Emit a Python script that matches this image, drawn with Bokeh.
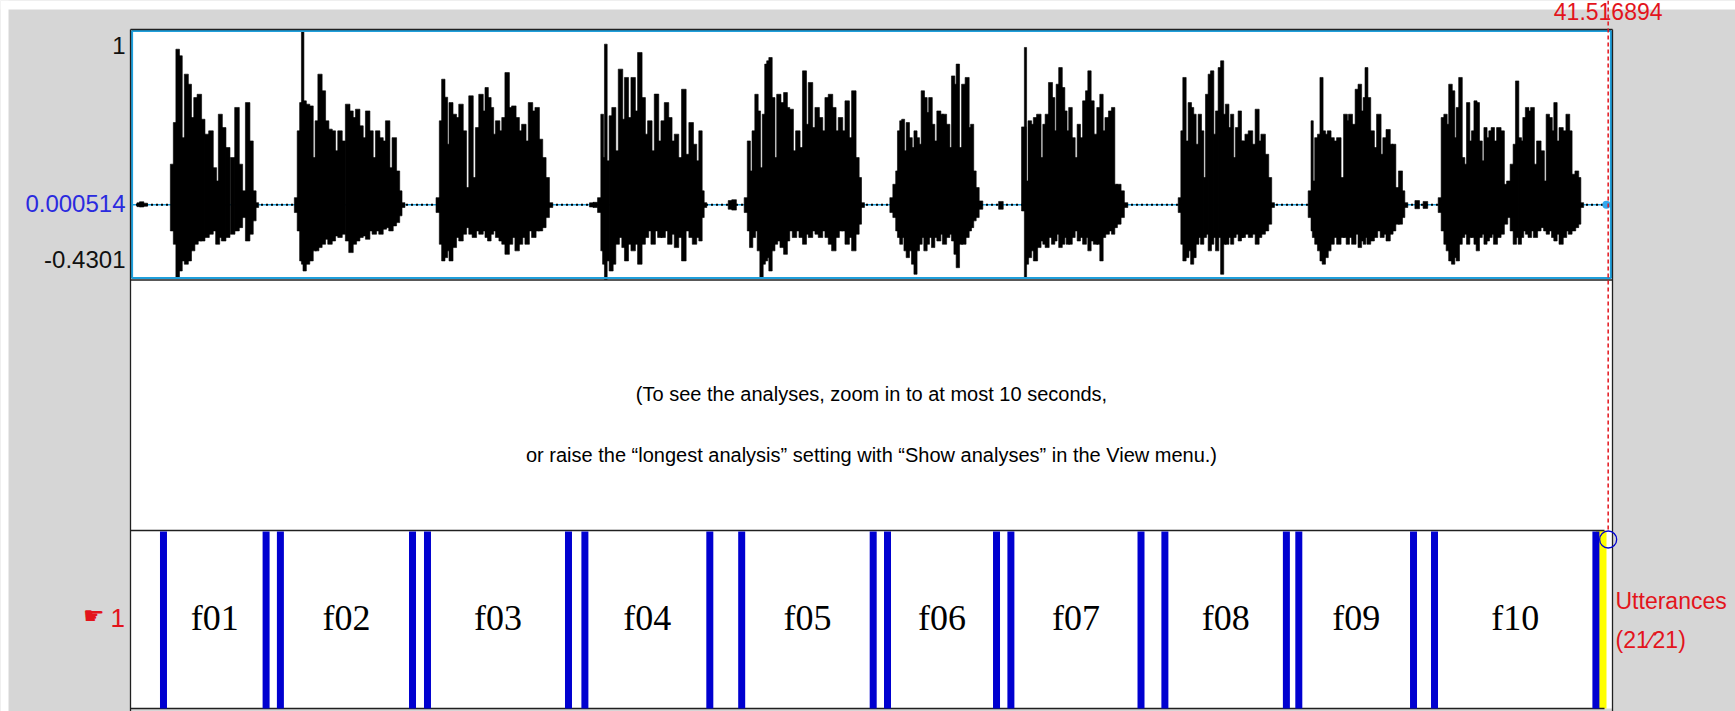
import numpy as np
from bokeh.plotting import figure
from bokeh.models import Range1d, ColumnDataSource
from bokeh.core.properties import value
from bokeh.embed import file_html
from bokeh.resources import INLINE

# ---------------- data ----------------
total_duration = 41.516894
cursor_label = "41.516894"
amp_max = 1.0
amp_mid = 0.000514
amp_min = -0.4301
y_tick_labels = ["1", "0.000514", "-0.4301"]

boundaries = [0.913, 3.797, 4.199, 7.912, 8.333, 12.296, 12.757, 16.268, 17.164, 20.860,
              21.262, 24.326, 24.730, 28.387, 29.058, 32.473, 32.822, 36.046, 36.636, 41.172]
tier_end = 41.47
interval_labels = ["", "f01", "", "f02", "", "f03", "", "f04", "", "f05", "",
                   "f06", "", "f07", "", "f08", "", "f09", "", "f10", ""]
selected_interval = 21
tier_name = "Utterances"
tier_number = "1"
message_lines = ["(To see the analyses, zoom in to at most 10 seconds,",
                 "or raise the \u201clongest analysis\u201d setting with \u201cShow analyses\u201d in the View menu.)"]

# waveform envelope (time s, upper amplitude, lower amplitude)
wave_t = [
    0.22, 0.30, 0.40,
    1.171, 1.237, 1.312, 1.387, 1.471, 1.555, 1.640, 1.733, 1.827, 1.921, 2.014, 2.136, 2.248, 2.342, 2.436, 2.511, 2.604, 2.717, 2.857, 2.979, 3.073, 3.185, 3.279, 3.373, 3.466, 3.523,
    4.656, 4.712, 4.778, 4.825, 4.881, 4.965, 5.059, 5.153, 5.228, 5.312, 5.406, 5.499, 5.593, 5.687, 5.780, 5.874, 5.968, 6.090, 6.183, 6.277, 6.371, 6.464, 6.558, 6.652, 6.745, 6.839, 6.933, 7.026, 7.120, 7.214, 7.307, 7.401, 7.495, 7.570, 7.635,
    8.638, 8.713, 8.778, 8.853, 8.919, 8.994, 9.087, 9.181, 9.275, 9.369, 9.462, 9.556, 9.650, 9.743, 9.837, 9.931, 9.996, 10.071, 10.146, 10.212, 10.305, 10.399, 10.479, 10.572, 10.666, 10.760, 10.853, 10.947, 11.041, 11.134, 11.228, 11.322, 11.416, 11.509, 11.603, 11.697, 11.790,
    12.95, 13.05,
    13.177, 13.242, 13.289, 13.345, 13.402, 13.495, 13.570, 13.664, 13.758, 13.851, 13.926, 14.020, 14.114, 14.207, 14.301, 14.395, 14.488, 14.582, 14.676, 14.770, 14.863, 14.957, 15.051, 15.144, 15.238, 15.332, 15.425, 15.538, 15.632, 15.744, 15.838, 15.931, 16.006, 16.072, 16.119,
    16.85, 16.95,
    17.299, 17.365, 17.430, 17.505, 17.580, 17.646, 17.721, 17.786, 17.852, 17.908, 17.974, 18.049, 18.123, 18.208, 18.302, 18.395, 18.461, 18.555, 18.648, 18.742, 18.836, 18.929, 19.004, 19.098, 19.192, 19.285, 19.379, 19.473, 19.566, 19.660, 19.754, 19.847, 19.941, 20.035, 20.129, 20.222, 20.316, 20.409, 20.484, 20.550,
    21.393, 21.459, 21.533, 21.580, 21.646, 21.702, 21.768, 21.833, 21.908, 21.983, 22.049, 22.114, 22.189, 22.255, 22.330, 22.395, 22.470, 22.545, 22.611, 22.705, 22.780, 22.864, 22.958, 23.033, 23.107, 23.173, 23.239, 23.314, 23.407, 23.501, 23.576, 23.641, 23.707, 23.782, 23.876,
    24.45,
    25.094, 25.140, 25.187, 25.262, 25.337, 25.421, 25.515, 25.609, 25.674, 25.749, 25.843, 25.918, 25.984, 26.049, 26.124, 26.199, 26.265, 26.330, 26.405, 26.480, 26.574, 26.639, 26.714, 26.799, 26.874, 26.939, 27.014, 27.108, 27.201, 27.276, 27.342, 27.436, 27.529, 27.604, 27.670, 27.764, 27.857, 27.951,
    29.497, 29.544, 29.609, 29.684, 29.759, 29.825, 29.890, 29.965, 30.040, 30.106, 30.181, 30.246, 30.321, 30.387, 30.462, 30.527, 30.602, 30.668, 30.733, 30.808, 30.883, 30.949, 31.015, 31.089, 31.164, 31.230, 31.277, 31.370, 31.464, 31.558, 31.651, 31.726, 31.820, 31.914, 32.007, 32.073,
    33.150, 33.197, 33.244, 33.319, 33.394, 33.460, 33.525, 33.600, 33.675, 33.759, 33.853, 33.947, 34.040, 34.134, 34.200, 34.275, 34.368, 34.462, 34.537, 34.612, 34.668, 34.724, 34.790, 34.884, 34.977, 35.071, 35.165, 35.240, 35.333, 35.418, 35.493, 35.586, 35.680, 35.755, 35.820,
    36.15, 36.38,
    36.804, 36.870, 36.945, 37.010, 37.085, 37.160, 37.226, 37.291, 37.366, 37.441, 37.507, 37.582, 37.647, 37.722, 37.788, 37.853, 37.928, 38.003, 38.069, 38.135, 38.209, 38.275, 38.350, 38.444, 38.537, 38.631, 38.725, 38.818, 38.893, 38.959, 39.034, 39.100, 39.165, 39.240, 39.315, 39.390, 39.474, 39.568, 39.662, 39.755, 39.821, 39.896, 39.971, 40.036, 40.111, 40.195, 40.289, 40.383, 40.449, 40.543, 40.636, 40.702, 40.777,
]
wave_hi = [
    0.012, 0.018, 0.010,
    0.235, 0.475, 0.898, 0.860, 0.388, 0.754, 0.696, 0.504, 0.619, 0.638, 0.494, 0.408, 0.427, 0.215, 0.138, 0.523, 0.446, 0.331, 0.273, 0.562, 0.235, 0.081, 0.590, 0.369, 0.081, 0.013,
    0.042, 0.427, 0.590, 1.000, 0.600, 0.581, 0.571, 0.273, 0.485, 0.754, 0.658, 0.485, 0.437, 0.427, 0.312, 0.427, 0.369, 0.581, 0.542, 0.504, 0.552, 0.456, 0.388, 0.542, 0.427, 0.273, 0.427, 0.388, 0.369, 0.485, 0.215, 0.388, 0.196, 0.081, 0.013,
    0.042, 0.485, 0.725, 0.621, 0.350, 0.590, 0.523, 0.504, 0.581, 0.427, 0.100, 0.629, 0.158, 0.446, 0.638, 0.542, 0.677, 0.619, 0.562, 0.408, 0.485, 0.427, 0.504, 0.763, 0.562, 0.571, 0.504, 0.427, 0.465, 0.369, 0.590, 0.542, 0.562, 0.379, 0.273, 0.158, 0.013,
    0.012, 0.015,
    0.042, 0.523, 0.273, 0.927, 0.254, 0.514, 0.562, 0.312, 0.783, 0.494, 0.735, 0.504, 0.735, 0.542, 0.879, 0.619, 0.408, 0.485, 0.312, 0.639, 0.369, 0.485, 0.590, 0.504, 0.369, 0.408, 0.273, 0.667, 0.292, 0.475, 0.350, 0.254, 0.427, 0.081, 0.013,
    0.025, 0.030,
    0.042, 0.369, 0.196, 0.427, 0.638, 0.542, 0.215, 0.523, 0.812, 0.831, 0.850, 0.619, 0.273, 0.638, 0.590, 0.648, 0.562, 0.552, 0.312, 0.427, 0.331, 0.773, 0.465, 0.706, 0.446, 0.562, 0.504, 0.427, 0.619, 0.638, 0.562, 0.427, 0.504, 0.427, 0.600, 0.388, 0.658, 0.273, 0.158, 0.013,
    0.042, 0.119, 0.196, 0.427, 0.485, 0.494, 0.312, 0.475, 0.388, 0.331, 0.427, 0.388, 0.350, 0.658, 0.619, 0.533, 0.619, 0.465, 0.369, 0.542, 0.523, 0.523, 0.465, 0.331, 0.744, 0.696, 0.812, 0.331, 0.696, 0.735, 0.446, 0.465, 0.196, 0.100, 0.023,
    0.020,
    0.450, 0.908, 0.138, 0.485, 0.465, 0.504, 0.523, 0.273, 0.465, 0.523, 0.706, 0.619, 0.427, 0.696, 0.792, 0.677, 0.542, 0.427, 0.562, 0.388, 0.273, 0.465, 0.388, 0.600, 0.658, 0.773, 0.600, 0.408, 0.562, 0.638, 0.427, 0.504, 0.542, 0.562, 0.119, 0.119, 0.081, 0.013,
    0.042, 0.427, 0.735, 0.369, 0.590, 0.562, 0.523, 0.350, 0.523, 0.427, 0.158, 0.638, 0.754, 0.773, 0.408, 0.542, 0.792, 0.831, 0.523, 0.581, 0.446, 0.523, 0.273, 0.446, 0.542, 0.369, 0.369, 0.408, 0.427, 0.350, 0.552, 0.369, 0.408, 0.292, 0.158, 0.013,
    0.081, 0.485, 0.138, 0.388, 0.408, 0.735, 0.427, 0.408, 0.427, 0.388, 0.369, 0.388, 0.158, 0.523, 0.485, 0.523, 0.465, 0.667, 0.696, 0.542, 0.619, 0.792, 0.619, 0.427, 0.331, 0.523, 0.292, 0.388, 0.435, 0.350, 0.350, 0.100, 0.196, 0.081, 0.013,
    0.025, 0.020,
    0.042, 0.504, 0.523, 0.465, 0.696, 0.658, 0.388, 0.562, 0.735, 0.273, 0.235, 0.590, 0.369, 0.427, 0.600, 0.590, 0.369, 0.254, 0.446, 0.388, 0.427, 0.446, 0.369, 0.446, 0.427, 0.119, 0.138, 0.235, 0.350, 0.715, 0.388, 0.369, 0.504, 0.562, 0.542, 0.562, 0.235, 0.369, 0.312, 0.138, 0.523, 0.504, 0.427, 0.590, 0.369, 0.446, 0.427, 0.523, 0.427, 0.177, 0.196, 0.158, 0.013,
]
wave_lo = [
    -0.010, -0.012, -0.008,
    -0.150, -0.227, -0.419, -0.381, -0.323, -0.342, -0.323, -0.265, -0.227, -0.208, -0.208, -0.188, -0.169, -0.150, -0.227, -0.188, -0.208, -0.188, -0.169, -0.150, -0.131, -0.073, -0.208, -0.169, -0.092, -0.015,
    -0.044, -0.150, -0.323, -0.342, -0.381, -0.342, -0.323, -0.265, -0.265, -0.246, -0.227, -0.198, -0.227, -0.208, -0.179, -0.188, -0.169, -0.208, -0.275, -0.227, -0.208, -0.188, -0.179, -0.198, -0.150, -0.169, -0.150, -0.169, -0.140, -0.131, -0.150, -0.121, -0.102, -0.063, -0.015,
    -0.044, -0.227, -0.323, -0.304, -0.265, -0.323, -0.246, -0.188, -0.208, -0.169, -0.131, -0.169, -0.188, -0.150, -0.169, -0.150, -0.188, -0.208, -0.169, -0.150, -0.188, -0.208, -0.227, -0.285, -0.227, -0.188, -0.265, -0.227, -0.188, -0.227, -0.150, -0.188, -0.150, -0.150, -0.131, -0.073, -0.015,
    -0.012, -0.015,
    -0.044, -0.265, -0.342, -0.430, -0.323, -0.381, -0.342, -0.227, -0.188, -0.246, -0.323, -0.227, -0.265, -0.227, -0.342, -0.227, -0.188, -0.150, -0.227, -0.150, -0.188, -0.188, -0.150, -0.227, -0.169, -0.246, -0.188, -0.323, -0.150, -0.188, -0.227, -0.188, -0.208, -0.073, -0.015,
    -0.025, -0.030,
    -0.044, -0.150, -0.246, -0.188, -0.150, -0.265, -0.419, -0.342, -0.323, -0.304, -0.381, -0.265, -0.227, -0.208, -0.246, -0.285, -0.208, -0.150, -0.188, -0.150, -0.188, -0.227, -0.169, -0.188, -0.150, -0.169, -0.188, -0.150, -0.188, -0.227, -0.265, -0.188, -0.150, -0.150, -0.227, -0.188, -0.265, -0.169, -0.111, -0.015,
    -0.044, -0.073, -0.150, -0.188, -0.227, -0.188, -0.265, -0.304, -0.265, -0.342, -0.400, -0.265, -0.227, -0.188, -0.265, -0.227, -0.188, -0.246, -0.188, -0.208, -0.169, -0.227, -0.188, -0.169, -0.208, -0.285, -0.362, -0.227, -0.227, -0.188, -0.150, -0.131, -0.092, -0.073, -0.025,
    -0.025,
    -0.035, -0.419, -0.342, -0.304, -0.265, -0.323, -0.246, -0.208, -0.227, -0.246, -0.188, -0.227, -0.208, -0.169, -0.246, -0.227, -0.188, -0.227, -0.227, -0.188, -0.150, -0.208, -0.188, -0.227, -0.188, -0.265, -0.208, -0.227, -0.227, -0.323, -0.188, -0.169, -0.150, -0.169, -0.131, -0.111, -0.073, -0.015,
    -0.044, -0.227, -0.323, -0.304, -0.265, -0.342, -0.304, -0.227, -0.188, -0.227, -0.188, -0.169, -0.265, -0.227, -0.188, -0.265, -0.188, -0.400, -0.227, -0.227, -0.188, -0.227, -0.188, -0.169, -0.208, -0.188, -0.188, -0.169, -0.188, -0.169, -0.227, -0.188, -0.169, -0.150, -0.111, -0.015,
    -0.073, -0.150, -0.188, -0.227, -0.265, -0.323, -0.342, -0.304, -0.265, -0.227, -0.188, -0.227, -0.188, -0.188, -0.227, -0.188, -0.227, -0.169, -0.246, -0.208, -0.227, -0.188, -0.227, -0.208, -0.188, -0.150, -0.188, -0.169, -0.208, -0.169, -0.150, -0.111, -0.111, -0.073, -0.015,
    -0.022, -0.020,
    -0.044, -0.150, -0.227, -0.265, -0.323, -0.342, -0.304, -0.323, -0.227, -0.188, -0.169, -0.227, -0.188, -0.188, -0.227, -0.265, -0.188, -0.169, -0.227, -0.208, -0.188, -0.169, -0.227, -0.188, -0.169, -0.111, -0.073, -0.150, -0.227, -0.188, -0.227, -0.188, -0.150, -0.169, -0.188, -0.150, -0.188, -0.150, -0.131, -0.150, -0.169, -0.150, -0.188, -0.208, -0.169, -0.227, -0.188, -0.150, -0.169, -0.150, -0.131, -0.111, -0.015,
]

# ---------------- layout / style ----------------
W, H = 1735, 711
PX0, PPS = 130.5, 35.58          # pixel of t=0, pixels per second
WAVE_TOP, WAVE_BOT = 31.0, 279.0  # pixel rows of amp_max / amp_min
TIER_TOP, TIER_BOT = 530.0, 708.0
PANEL_L, PANEL_R = 130.0, 1612.0
GRAY = "#d6d6d6"
CYAN = "#1f9fdb"
BLUE = "#0000d0"
RED = "#e3141c"
SANS = value("Liberation Sans")
SERIF = value("Liberation Serif")


def tx(px):
    return (px - PX0) / PPS


k = (amp_max - amp_min) / (WAVE_BOT - WAVE_TOP)
amp_range = Range1d(start=amp_max - (H - WAVE_TOP) * k, end=amp_max + WAVE_TOP * k)

p = figure(width=W, height=H, x_range=Range1d(tx(0), tx(W)), y_range=Range1d(H, 0),
           output_backend="svg", toolbar_location=None, min_border=0,
           x_axis_location=None, y_axis_location=None,
           background_fill_color=GRAY, border_fill_color=GRAY, outline_line_color=None)
p.grid.visible = False
p.extra_y_ranges = {"amp": amp_range}

# background strips and white panels
p.quad(left=[tx(0)], right=[tx(W)], top=[0], bottom=[9], fill_color="white", line_color=None)
p.quad(left=[tx(0)], right=[tx(8)], top=[0], bottom=[H], fill_color="white", line_color=None)
p.quad(left=[tx(PANEL_L)], right=[tx(PANEL_R)], top=[29], bottom=[TIER_BOT], fill_color="white", line_color=None)

# selected interval (yellow)
p.quad(left=[boundaries[selected_interval - 2]], right=[tier_end], top=[TIER_TOP], bottom=[TIER_BOT],
       fill_color="#ffff00", line_color=None)

# waveform
n = min(len(wave_t), len(wave_hi), len(wave_lo))
t = np.array(wave_t[:n])
hi = np.array(wave_hi[:n])
lo = np.array(wave_lo[:n])
w = np.empty(n)
w[1:-1] = (t[2:] - t[:-2]) / 2
w[0] = t[1] - t[0]
w[-1] = t[-1] - t[-2]
w = np.clip(w * 1.35, 0.05, 0.13)
src = ColumnDataSource(dict(t=t, hi=hi, lo=lo, w=w))
p.line(x=[0, total_duration], y=[amp_mid, amp_mid], y_range_name="amp", line_color=CYAN, line_width=1.5)
p.line(x=[0, total_duration], y=[amp_mid, amp_mid], y_range_name="amp", line_color="black",
       line_width=2, line_dash="2 3")
p.vbar(x="t", top="hi", bottom="lo", width="w", source=src, y_range_name="amp",
       fill_color="black", line_color="black", line_width=0.6)
p.scatter(x=[total_duration - 0.05], y=[amp_mid], y_range_name="amp", size=8,
          fill_color="#33aaee", line_color=None)

# waveform panel border
p.quad(left=[tx(PANEL_L + 1.5)], right=[tx(PANEL_R - 1.5)], top=[WAVE_TOP - 0.5], bottom=[WAVE_BOT - 1.5],
       fill_color=None, line_color=CYAN, line_width=2.2)

# black frame lines
p.segment(x0=[tx(PANEL_L), tx(PANEL_R), tx(PANEL_L), tx(PANEL_L), tx(PANEL_L), tx(PANEL_L)],
          x1=[tx(PANEL_L), tx(PANEL_R), tx(PANEL_R), tx(PANEL_R), tx(1604), tx(1604)],
          y0=[29, 29, 29, WAVE_BOT + 0.5, TIER_TOP, TIER_BOT],
          y1=[H, H, 29, WAVE_BOT + 0.5, TIER_TOP, TIER_BOT],
          line_color="#202020", line_width=1.3)

# tier boundaries
p.segment(x0=boundaries, x1=boundaries, y0=[TIER_TOP + 1] * len(boundaries), y1=[TIER_BOT] * len(boundaries),
          line_color=BLUE, line_width=7)

# interval labels
edges = [0.0] + boundaries + [tier_end]
mids = [(edges[i] + edges[i + 1]) / 2 for i in range(len(interval_labels))]
lab_x = [m for m, s in zip(mids, interval_labels) if s]
lab_s = [s for s in interval_labels if s]
p.text(x=lab_x, y=[617] * len(lab_x), text=lab_s, text_font=SERIF, text_font_size="36px",
       text_align="center", text_baseline="middle", text_color="black")

# analysis message
p.text(x=[tx(871)] * 2, y=[393, 454], text=message_lines, text_font=SANS, text_font_size="20px",
       text_align="center", text_baseline="middle", text_color="black")

# y tick labels
p.text(x=[tx(125)] * 3, y=[45, 203, 259], text=y_tick_labels, text_font=SANS, text_font_size="24px",
       text_align="right", text_baseline="middle", text_color=["#111111", "#2a2adf", "#111111"])

# tier number and name
p.text(x=[tx(124.5)], y=[617], text=[tier_number], text_font=SANS, text_font_size="26px",
       text_align="right", text_baseline="middle", text_color=RED)
p.text(x=[tx(104)], y=[615], text=["\u261b"], text_font=value("DejaVu Sans"), text_font_size="24px",
       text_align="right", text_baseline="middle", text_color=RED)
p.text(x=[tx(1615)] * 2, y=[600, 639],
       text=[tier_name, "(%d\u2215%d)" % (selected_interval, len(interval_labels))],
       text_font=SANS, text_font_size="23px", text_align="left", text_baseline="middle", text_color=RED)

# cursor
p.segment(x0=[total_duration], x1=[total_duration], y0=[0], y1=[TIER_TOP], line_color=RED,
          line_width=1.5, line_dash="4 3")
p.text(x=[total_duration], y=[2], text=[cursor_label], text_font=SANS, text_font_size="23px",
       text_align="center", text_baseline="top", text_color=RED)
p.scatter(x=[total_duration], y=[539], marker="circle", size=17, fill_color=None,
          line_color=BLUE, line_width=1.3)

open("out.html", "w").write(file_html(p, INLINE))
